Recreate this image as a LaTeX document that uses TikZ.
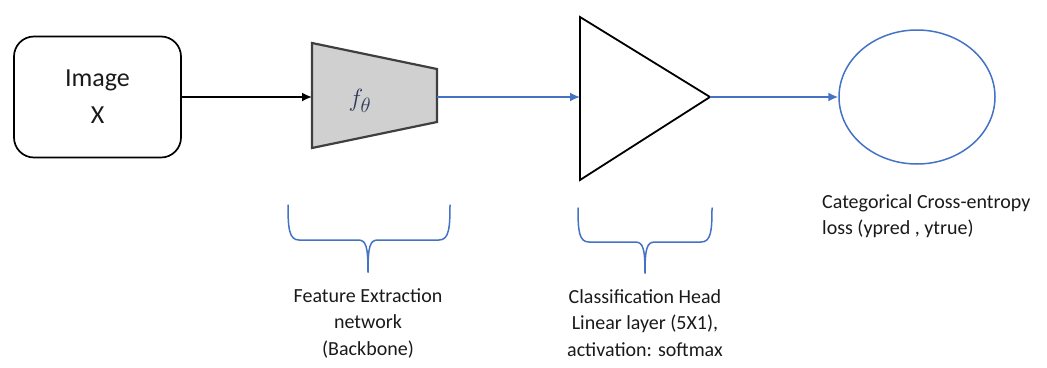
\documentclass[tikz,border=0pt]{standalone}
\usepackage{fontspec}
\setmainfont{Carlito}
\usetikzlibrary{arrows.meta,shapes.geometric}
\definecolor{lineblue}{HTML}{4472C4}
\definecolor{trapfill}{HTML}{D0D0D0}
\definecolor{trapline}{HTML}{3F3F3F}
\definecolor{ftext}{HTML}{2E3A59}
\definecolor{labtext}{HTML}{1A1A1A}
\begin{document}
\begin{tikzpicture}[x=1pt,y=-1pt,
  blkarrow/.style={line width=1.7pt, draw=black, -{Latex[length=10pt,width=9pt]}},
  bluearrow/.style={line width=1.7pt, draw=lineblue, -{Latex[length=10pt,width=9pt]}},
  bracestyle/.style={line width=1.5pt, draw=lineblue, line cap=round},
  labelstyle/.style={text=labtext, font=\fontsize{20}{26.5}\selectfont, inner sep=0pt}
]
\useasboundingbox (0,0) rectangle (1047,367);

% input box
\node[draw, line width=1.7pt, rounded corners=20pt, minimum width=167pt, minimum height=121pt,
      align=center, font=\fontsize{26}{37}\selectfont, text=labtext] (img) at (97.5,97) {Image\\X};

% backbone trapezoid
\coordinate (tl) at (312,43);
\coordinate (bl) at (312,148);
\coordinate (tr) at (437,69);
\coordinate (br) at (437,122);
\coordinate (fin) at (312,97);
\coordinate (fout) at (437,97);
\draw[fill=trapfill, draw=trapline, line width=2.2pt, line join=miter] (tl) -- (tr) -- (br) -- (bl) -- cycle;
\node[text=ftext, font=\fontsize{31}{34}\selectfont] (f) at (360,101) {$f_\theta$};

% classification head triangle
\coordinate (ttop) at (580,17);
\coordinate (tbot) at (580,180);
\coordinate (apex) at (710,97);
\coordinate (tin) at (580,97);
\draw[line width=1.8pt, line join=miter] (ttop) -- (apex) -- (tbot) -- cycle;

% loss ellipse
\node[ellipse, draw=lineblue, line width=1.5pt, minimum width=156pt, minimum height=134pt] (loss) at (917,97) {};

% connectors
\draw[blkarrow] (img.east) -- (fin);
\draw[bluearrow] (fout) -- (tin);
\draw[bluearrow] (apex) -- (loss.west);

% braces
\draw[bracestyle] (288,205) .. controls (288,228) and (289,240) .. (299,240) -- (358,240) .. controls (366,240) and (368,246) .. (368,272);
\draw[bracestyle] (450,205) .. controls (450,228) and (449,240) .. (439,240) -- (378,240) .. controls (370,240) and (368,246) .. (368,272);
\draw[bracestyle] (578,208) .. controls (578,231) and (579,242) .. (589,242) -- (635,242) .. controls (643,242) and (645,248) .. (645,273);
\draw[bracestyle] (712,208) .. controls (712,231) and (711,242) .. (701,242) -- (655,242) .. controls (647,242) and (645,248) .. (645,273);

% labels
\node[labelstyle, align=center] (fe) at (368,323) {Feature Extraction\\network\\(Backbone)};
\node[labelstyle, align=center] (ch) at (645,323) {Classification Head\\Linear layer (5X1),\\activation: softmax};
\node[labelstyle, align=left, anchor=west] (ll) at (822,216) {Categorical Cross-entropy\\loss (ypred , ytrue)};
\end{tikzpicture}
\end{document}
